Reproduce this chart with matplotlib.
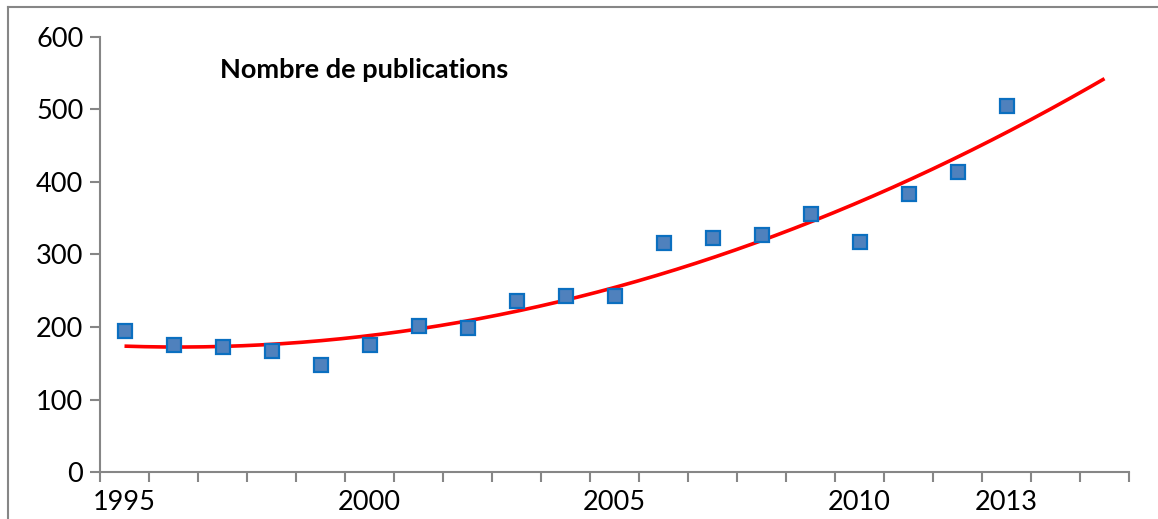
import numpy as np
import matplotlib
matplotlib.use("Agg")
import matplotlib.pyplot as plt
from matplotlib.lines import Line2D

years = [1995, 1996, 1997, 1998, 1999, 2000, 2001, 2002, 2003, 2004,
         2005, 2006, 2007, 2008, 2009, 2010, 2011, 2012, 2013]
publications = [195, 175, 172, 167, 148, 175, 201, 199, 236, 243,
                243, 316, 323, 327, 356, 317, 383, 414, 505]
tick_years = [1995, 2000, 2005, 2010, 2013]
yticks = [0, 100, 200, 300, 400, 500, 600]
title = "Nombre de publications"

plt.rcParams['font.family'] = ['Lato', 'DejaVu Sans']

fig = plt.figure(figsize=(11.58, 5.19), dpi=100)
ax = fig.add_axes([100/1158, 1-472/519, 1029/1158, (472-37)/519])

grey = '#868686'

# trend (2nd-order polynomial, projected 2 years forward)
coef = np.polyfit(years, publications, 2)
tx = np.linspace(years[0], years[-1] + 2, 200)
ax.plot(tx, np.polyval(coef, tx), color='#FF0000', lw=2.6, zorder=2,
        solid_capstyle='butt')

ax.plot(years, publications, linestyle='none', marker='s', markersize=10.5,
        markerfacecolor='#4F81BD', markeredgecolor='#0B6FC0',
        markeredgewidth=1.6, zorder=3)

ax.set_xlim(1994.5, 2015.5)
ax.set_ylim(0, 600)

ax.set_yticks(yticks)
ax.set_yticklabels([str(v) for v in yticks])
ax.set_xticks(tick_years)
ax.set_xticklabels([str(v) for v in tick_years])
ax.set_xticks(np.arange(1994.5, 2015.6, 1.0), minor=True)
ax.tick_params(axis='x', which='major', length=0, pad=13, labelsize=19.5)
ax.tick_params(axis='x', which='minor', length=7, width=1.5, color=grey, direction='out')
ax.tick_params(axis='y', which='major', length=7, width=1.5, color=grey,
               direction='out', labelsize=19.5, pad=5)

for s in ['top', 'right']:
    ax.spines[s].set_visible(False)
for s in ['left', 'bottom']:
    ax.spines[s].set_color(grey)
    ax.spines[s].set_linewidth(1.5)

ax.text(220/1158, 1-70/519, title, transform=fig.transFigure,
        fontsize=19.5, fontweight='bold', ha='left', va='center')

# outer chart border (left and top visible)
fig.add_artist(Line2D([8/1158, 8/1158], [0, 1-7/519], transform=fig.transFigure,
                      color=grey, lw=1.5))
fig.add_artist(Line2D([8/1158, 1], [1-7/519, 1-7/519], transform=fig.transFigure,
                      color=grey, lw=1.5))

fig.savefig('out.png', dpi=100)
